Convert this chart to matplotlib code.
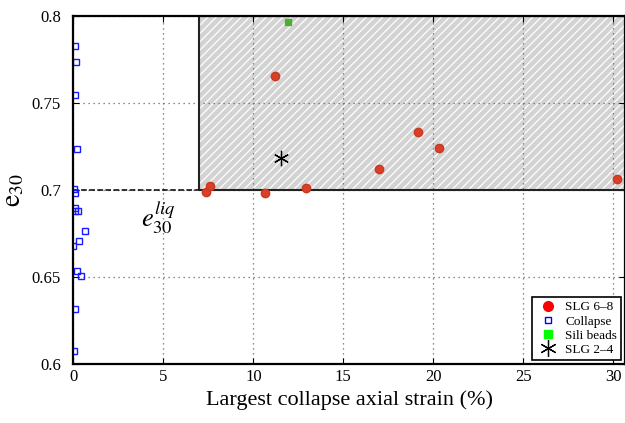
import matplotlib
matplotlib.use("Agg")
import matplotlib.pyplot as plt
from matplotlib.lines import Line2D
from matplotlib.patches import Rectangle

plt.rcParams['font.family'] = ['Liberation Serif', 'DejaVu Serif']
plt.rcParams['mathtext.fontset'] = 'stix'
plt.rcParams['hatch.color'] = 'white'
plt.rcParams['hatch.linewidth'] = 0.9

# SLG 6-8
slg68_x = [7.36, 7.6, 10.65, 11.22, 12.93, 16.96, 19.17, 20.3, 30.19]
slg68_y = [0.699, 0.7023, 0.6985, 0.7655, 0.7013, 0.712, 0.7333, 0.7243, 0.7063]

# Collapse
col_x = [0.11, 0.17, 0.08, 0.19, 0.02, 0.11, 0.11, 0.08, 0.24, 0.65, 0.3, 0.0, 0.22, 0.45, 0.11, 0.02]
col_y = [0.7826, 0.7736, 0.7544, 0.7234, 0.7006, 0.6985, 0.6897, 0.6877, 0.6877,
         0.6766, 0.6705, 0.6677, 0.6536, 0.6506, 0.6316, 0.6076]

# Sili beads
sili_x = [11.93]
sili_y = [0.7966]

# SLG 2-4
slg24_x = [11.52]
slg24_y = [0.7182]

e_liq = 0.7
x_liq = 7.0

fig = plt.figure(figsize=(6.25, 4.23), dpi=100)
ax = fig.add_axes([0.1173, 0.1395, 0.8827, 0.8227])

ax.add_patch(Rectangle((x_liq, e_liq), 40 - x_liq, 0.1, facecolor='#d3d3d3',
                       edgecolor='white', hatch='////', linewidth=0, zorder=0.5))
ax.add_patch(Rectangle((x_liq, e_liq), 40 - x_liq, 0.1, facecolor='none',
                       edgecolor='#222222', linewidth=1.5, zorder=2.6))
ax.plot([0, x_liq], [e_liq, e_liq], 'k--', lw=1.1, zorder=2.6)

ax.plot(slg68_x, slg68_y, 'o', color='#d9402a', ms=6, mec='#c8391f', zorder=3)
ax.plot(col_x, col_y, 's', mfc='none', mec='#1a1aff', ms=5, mew=1.0, zorder=3)
ax.plot(sili_x, sili_y, 's', color='#4caf30', ms=5, zorder=3)
ax.plot(slg24_x, slg24_y, ls='none', marker=(6, 2, 0), color='black', ms=11, mew=0.9, zorder=3)

ax.text(3.75, 0.6945, r'$e_{30}^{liq}$', fontsize=19, va='top', ha='left')

ax.set_xlim(0, 30.65)
ax.set_ylim(0.6, 0.8)
ax.set_xticks([0, 5, 10, 15, 20, 25, 30])
ax.set_yticks([0.6, 0.65, 0.7, 0.75, 0.8])
ax.set_yticklabels(['0.6', '0.65', '0.7', '0.75', '0.8'])
ax.tick_params(direction='in', top=True, right=True, labelsize=12, length=4)
ax.tick_params(axis='y', pad=9)
ax.set_axisbelow(False)
ax.grid(True, linestyle=(0, (1, 3)), color='#666666', linewidth=0.9)
for s in ax.spines.values():
    s.set_linewidth(1.6)
    s.set_zorder(4)

ax.set_xlabel('Largest collapse axial strain (%)', fontsize=16)
ax.set_ylabel(r'$\mathrm{e}_{30}$', fontsize=20, labelpad=4)

handles = [
    Line2D([], [], ls='none', marker='o', color='#ff0000', ms=7),
    Line2D([], [], ls='none', marker='s', mfc='none', mec='#0000ff', ms=5),
    Line2D([], [], ls='none', marker='s', color='#00ff00', ms=6),
    Line2D([], [], ls='none', marker=(6, 2, 0), color='black', ms=12, mew=0.9),
]
leg = ax.legend(handles, ['SLG 6\u20138', 'Collapse', 'Sili beads', 'SLG 2\u20134'],
                loc='lower right', fontsize=9.5, frameon=True, fancybox=False,
                edgecolor='black', framealpha=1, borderpad=0.3, labelspacing=0.15,
                handletextpad=0.4, handlelength=1.8, borderaxespad=0.3)
leg.get_frame().set_linewidth(1.2)
leg.set_zorder(5)

fig.savefig('out.png', dpi=100)
